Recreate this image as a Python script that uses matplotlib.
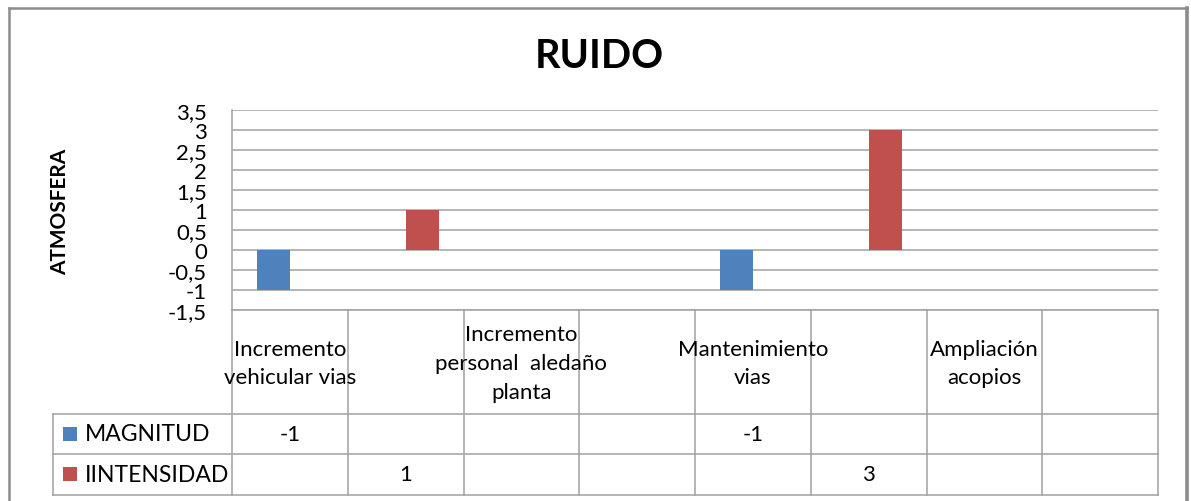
import numpy as np
import matplotlib
matplotlib.use("Agg")
import matplotlib.pyplot as plt
from matplotlib.lines import Line2D
from matplotlib.patches import Rectangle
from matplotlib.transforms import blended_transform_factory

plt.rcParams['font.family'] = ['Lato', 'DejaVu Sans']

# ---- data ----
categories = ["Incremento\nvehicular vias", "",
              "Incremento\npersonal  aledaño\nplanta", "",
              "Mantenimiento\nvias", "",
              "Ampliación\nacopios", ""]
series_names = ["MAGNITUD", "IINTENSIDAD"]
magnitud = [-1, None, None, None, -1, None, None, None]
intensidad = [None, 1, None, None, None, 3, None, None]
series_values = [magnitud, intensidad]
series_colors = ["#4F81BD", "#C0504D"]
y_ticks = [-1.5, -1, -0.5, 0, 0.5, 1, 1.5, 2, 2.5, 3, 3.5]

W, H = 1191, 502
fig = plt.figure(figsize=(W / 100, H / 100), dpi=100)
fig.patch.set_facecolor("white")


def fx(x):
    return x / W


def fy(y):
    return 1 - y / H


# plot area in pixel terms
left, right, top, bottom = 232, 1158, 111, 311
ax = fig.add_axes([fx(left), fy(bottom), fx(right - left), (bottom - top) / H])

grid_c = "#A0A0A0"
n = len(categories)
x = np.arange(n)
bw = 0.285
offsets = [-bw / 2, bw / 2]
for vals, off, col in zip(series_values, offsets, series_colors):
    xs = [i + off for i, v in enumerate(vals) if v is not None]
    hs = [v for v in vals if v is not None]
    ax.bar(xs, hs, width=bw, color=col, zorder=3)

ax.set_xlim(-0.5, n - 0.5)
ax.set_ylim(y_ticks[0], y_ticks[-1])
ax.set_yticks(y_ticks)
ax.set_yticklabels([("%g" % t).replace(".", ",") for t in y_ticks], fontsize=16)
ax.tick_params(axis="y", length=0, pad=18)
ax.set_xticks([])
ax.yaxis.grid(True, color=grid_c, linewidth=1.1, zorder=0)
for s in ["top", "right", "bottom"]:
    ax.spines[s].set_visible(False)
ax.spines["left"].set_color(grid_c)
ax.spines["left"].set_linewidth(1.1)

# title and axis title
fig.text(fx(599), fy(57), "RUIDO", ha="center", va="center",
         fontsize=28.5, fontweight="bold")
fig.text(fx(60), fy(212), "ATMOSFERA", ha="center", va="center",
         rotation=90, fontsize=15, fontweight="bold")

# data table under the plot
tr = blended_transform_factory(ax.transData, fig.transFigure)
row_bot = 496
tab_left = 53
line_kw = dict(color=grid_c, linewidth=1.1)

# horizontal rules
fig.add_artist(Line2D([fx(left), fx(right)], [fy(311), fy(311)], **line_kw))
for yy in [415, 455, 496]:
    fig.add_artist(Line2D([fx(tab_left), fx(right)], [fy(yy), fy(yy)], **line_kw))
# vertical rules
for b in np.arange(n + 1) - 0.5:
    fig.add_artist(Line2D([b, b], [fy(311), fy(row_bot)], transform=tr, **line_kw))
fig.add_artist(Line2D([fx(tab_left)] * 2, [fy(415), fy(row_bot)], **line_kw))

# category labels
for i, c in enumerate(categories):
    if c:
        fig.text(i, fy(364), c, transform=tr, ha="center", va="center",
                 fontsize=16, linespacing=1.55, zorder=5)

# legend keys and values
row_mid = [435, 475]
for name, vals, col, ym in zip(series_names, series_values, series_colors, row_mid):
    fig.add_artist(Rectangle((fx(63), fy(ym + 7)), fx(14), 14 / H,
                             facecolor=col, edgecolor="none"))
    fig.text(fx(85), fy(ym), name, ha="left", va="center", fontsize=16.5)
    for i, v in enumerate(vals):
        if v is not None:
            fig.text(i, fy(ym), "%g" % v, transform=tr, ha="center",
                     va="center", fontsize=16)

# chart frame
frame_c = "#8C8C8C"
fig.add_artist(Line2D([fx(9), fx(9)], [fy(9), 0], color=frame_c, linewidth=1.8))
fig.add_artist(Line2D([fx(9), fx(1187)], [fy(9), fy(9)], color=frame_c, linewidth=1.8))
fig.add_artist(Line2D([fx(1187), fx(1187)], [fy(9), 0], color=frame_c, linewidth=2.6))

fig.savefig("out.png", dpi=100, facecolor="white")
